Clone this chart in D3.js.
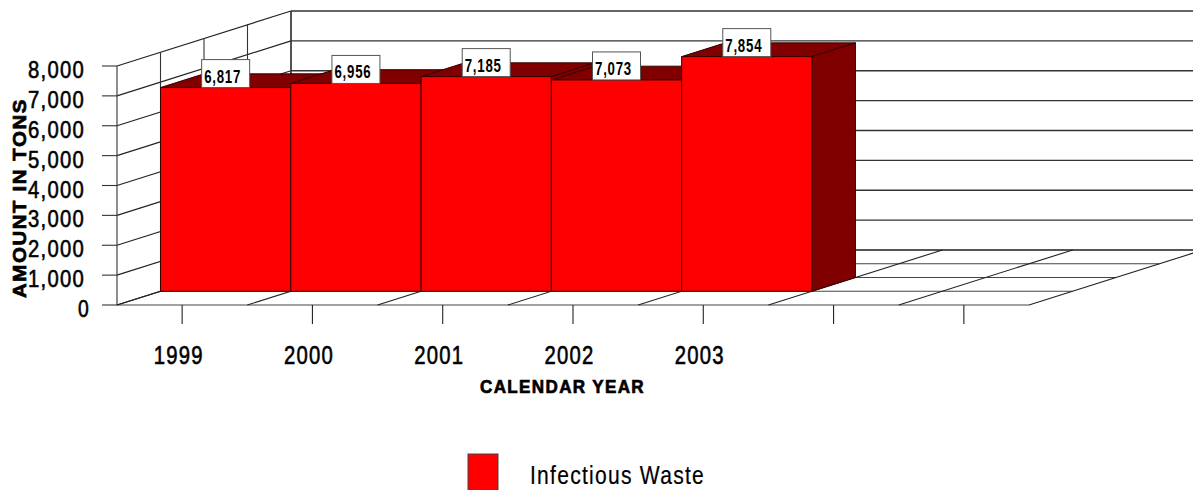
<!DOCTYPE html>
<html>
<head>
<meta charset="utf-8">
<script src="https://cdn.jsdelivr.net/npm/d3@7"></script>
<style>
    html, body { margin: 0; padding: 0; background: #fff; overflow: hidden; }
    svg { display: block; }
    text { font-family: "Liberation Sans", Arial, sans-serif; fill: #000; }
    .tick-label { font-size: 24px; letter-spacing: 1.5px; stroke: #000; stroke-width: 0.6px; }
    .year-label { font-size: 25px; letter-spacing: 1.5px; stroke: #000; stroke-width: 0.6px; }
    .axis-title { font-size: 19px; letter-spacing: 1.5px; font-weight: bold; stroke: #000; stroke-width: 0.7px; }
    .value-label { font-size: 17.5px; letter-spacing: 1px; font-weight: bold; }
    .legend-label { font-size: 25px; letter-spacing: 1.5px; stroke: #000; stroke-width: 0.2px; }
</style>
</head>
<body>
<div id="plot"></div>
<script>
const years = ["1999", "2000", "2001", "2002", "2003", "", ""];
const amounts = [6817, 6956, 7185, 7073, 7854];
const valueTicks = [0, 1000, 2000, 3000, 4000, 5000, 6000, 7000, 8000];
const depthTicks = [0, 0.25, 0.5, 0.75, 1];
const seriesName = "Infectious Waste";
const xTitle = "CALENDAR YEAR";
const yTitle = "AMOUNT IN TONS";

const width = 1193, height = 490;
const colors = { front: "#ff0000", dark: "#800000", line: "#222", edge: "#300" };

const svg = d3.select("#plot").append("svg")
    .attr("width", width)
    .attr("height", height);

// front plane of the chart box, the depth goes up and to the right
const xScale = d3.scaleBand().domain(d3.range(years.length)).range([117, 1029]);
const yScale = d3.scaleLinear().domain([0, 8000]).range([305, 66]);
const depthX = d3.scaleLinear().domain([0, 1]).range([0, 174]);
const depthY = d3.scaleLinear().domain([0, 1]).range([0, -55]);

const slots = xScale.domain().map(i => xScale(i)).concat(xScale.range()[1]);
const project = (x, value, depth) => [x + depthX(depth), yScale(value) + depthY(depth)];

const drawLine = (a, b, stroke = colors.line, w = 1.1) => svg.append("line")
    .attr("x1", a[0]).attr("y1", a[1])
    .attr("x2", b[0]).attr("y2", b[1])
    .attr("stroke", stroke)
    .attr("stroke-width", w);

const drawFace = (points, fill) => svg.append("polygon")
    .attr("points", points.map(p => p.join(",")).join(" "))
    .attr("fill", fill)
    .attr("stroke", colors.edge)
    .attr("stroke-width", 1);

const [x0, x1] = xScale.range();

// back wall
valueTicks.forEach(v => drawLine(project(x0, v, 1), project(x1, v, 1), "#333", 1.3));
drawLine(project(x0, 0, 1), project(x0, 8000, 1), "#333", 1.3);

// left wall
valueTicks.forEach(v => drawLine(project(x0, v, 0), project(x0, v, 1)));
depthTicks.forEach(d => drawLine(project(x0, 0, d), project(x0, 8000, d), "#333"));

// floor
depthTicks.forEach(d => drawLine(project(x0, 0, d), project(x1, 0, d), "#444", 1.2));
slots.forEach(x => drawLine(project(x, 0, 0), project(x, 0, 1)));

// value axis
valueTicks.forEach(v => drawLine([x0 - 15, yScale(v)], [x0, yScale(v)], "#333"));
svg.append("g").selectAll("text")
    .data(valueTicks)
    .join("text")
    .attr("class", "tick-label")
    .attr("text-anchor", "end")
    .attr("x", d => d === 0 ? 90 : 85)
    .attr("y", d => yScale(d) + 12)
    .attr("textLength", d => d === 0 ? 12 : 57)
    .attr("lengthAdjust", "spacingAndGlyphs")
    .text(d3.format(","));

// category axis
years.forEach((year, i) => {
    const cx = xScale(i) + xScale.bandwidth() / 2;
    drawLine([cx, yScale(0)], [cx, yScale(0) + 19], "#222");
    if (!year) return;
    svg.append("text")
        .attr("class", "year-label")
        .attr("text-anchor", "middle")
        .attr("x", cx - 3.5)
        .attr("y", 363.5)
        .attr("textLength", 50)
        .attr("lengthAdjust", "spacingAndGlyphs")
        .text(year);
});

// bars, the box sits between a quarter and half of the depth
amounts.forEach((value, i) => {
    const left = xScale(i), right = left + xScale.bandwidth();
    drawFace([project(left, value, 0.25), project(right, value, 0.25), project(right, value, 0.5), project(left, value, 0.5)], colors.dark);
    drawFace([project(right, 0, 0.25), project(right, 0, 0.5), project(right, value, 0.5), project(right, value, 0.25)], colors.dark);
    drawFace([project(left, 0, 0.25), project(right, 0, 0.25), project(right, value, 0.25), project(left, value, 0.25)], colors.front);
});

// value labels
const labelW = 48, labelH = 28;
amounts.forEach((value, i) => {
    const [px, py] = project(xScale(i) + xScale.bandwidth() / 2, value, 0.25);
    svg.append("rect")
        .attr("x", px - labelW / 2)
        .attr("y", py - labelH)
        .attr("width", labelW)
        .attr("height", labelH)
        .attr("fill", "#fff")
        .attr("stroke", "#555")
        .attr("stroke-width", 1);
    svg.append("text")
        .attr("class", "value-label")
        .attr("text-anchor", "middle")
        .attr("x", px - 3)
        .attr("y", py - 5)
        .attr("textLength", 37)
        .attr("lengthAdjust", "spacingAndGlyphs")
        .text(d3.format(",")(value));
});

// titles
svg.append("text")
    .attr("class", "axis-title")
    .attr("text-anchor", "middle")
    .attr("transform", "translate(25.5,198) rotate(-90)")
    .attr("textLength", 200)
    .attr("lengthAdjust", "spacingAndGlyphs")
    .text(yTitle);

svg.append("text")
    .attr("class", "axis-title")
    .attr("text-anchor", "middle")
    .attr("x", 562.5)
    .attr("y", 392.5)
    .attr("textLength", 165)
    .attr("lengthAdjust", "spacingAndGlyphs")
    .text(xTitle);

// legend
svg.append("rect")
    .attr("x", 468)
    .attr("y", 454)
    .attr("width", 30)
    .attr("height", 40)
    .attr("fill", colors.front)
    .attr("stroke", "#444")
    .attr("stroke-width", 1);

svg.append("text")
    .attr("class", "legend-label")
    .attr("x", 530)
    .attr("y", 484)
    .attr("textLength", 175)
    .attr("lengthAdjust", "spacingAndGlyphs")
    .text(seriesName);
</script>
</body>
</html>
